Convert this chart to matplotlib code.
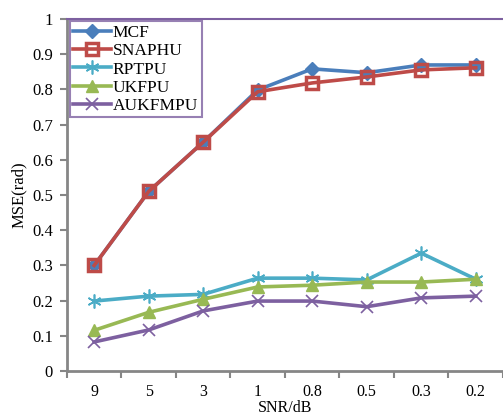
import matplotlib.pyplot as plt
import numpy as np

snr = ["9", "5", "3", "1", "0.8", "0.5", "0.3", "0.2"]
mcf = [0.30, 0.51, 0.65, 0.798, 0.858, 0.847, 0.869, 0.869]
snaphu = [0.30, 0.51, 0.65, 0.793, 0.818, 0.835, 0.855, 0.861]
rptpu = [0.199, 0.213, 0.218, 0.264, 0.264, 0.259, 0.335, 0.261]
ukfpu = [0.116, 0.167, 0.204, 0.239, 0.244, 0.253, 0.253, 0.261]
aukfmpu = [0.083, 0.117, 0.171, 0.199, 0.199, 0.183, 0.208, 0.213]

plt.rcParams["font.family"] = ["Liberation Serif", "DejaVu Serif"]

fig = plt.figure(figsize=(5.03, 4.18), dpi=100)
ax = fig.add_axes([0.133, 0.112, 0.867, 0.843])

x = np.arange(len(snr))
lw = 2.6
ax.plot(x, mcf, color="#4A7EBB", lw=lw, marker="D", ms=7,
        mfc="#4A7EBB", mec="#4A7EBB", label="MCF")
ax.plot(x, snaphu, color="#BE4B48", lw=lw, marker="s", ms=8,
        mfc="none", mec="#BE4B48", mew=2.5, label="SNAPHU")
ax.plot(x, rptpu, color="#4BACC6", lw=lw, marker=(6, 2, 0), ms=10,
        mec="#4BACC6", mew=1.2, label="RPTPU")
ax.plot(x, ukfpu, color="#98B954", lw=lw, marker="^", ms=8,
        mfc="#98B954", mec="#98B954", label="UKFPU")
ax.plot(x, aukfmpu, color="#7D60A0", lw=lw, marker="x", ms=9,
        mec="#7D60A0", mew=1.2, label="AUKFMPU")

ax.set_xlim(-0.5, len(snr) - 0.5)
ax.set_ylim(0, 1)
ax.set_xticks(np.arange(-0.5, len(snr), 1.0))
ax.set_xticklabels([])
ax.set_xticks(x, minor=True)
ax.set_xticklabels(snr, minor=True, fontsize=11.5)
ax.tick_params(axis="x", which="major", direction="out", length=5,
               width=1.5, color="#868686")
ax.tick_params(axis="x", which="minor", length=0, pad=9)

yt = np.round(np.arange(0, 1.01, 0.1), 1)
ax.set_yticks(yt)
ax.set_yticklabels(["0"] + [f"{v:.1f}" for v in yt[1:-1]] + ["1"], fontsize=12)
ax.tick_params(axis="y", direction="out", length=5, width=1.5,
               color="#868686", pad=5)

ax.set_xlabel("SNR/dB", fontsize=11.5, labelpad=0)
ax.set_ylabel("MSE(rad)", fontsize=12, labelpad=4)

for s in ["left", "bottom"]:
    ax.spines[s].set_color("#868686")
    ax.spines[s].set_linewidth(2)
ax.spines["top"].set_color("#7D60A0")
ax.spines["top"].set_linewidth(1.5)
ax.spines["right"].set_visible(False)

leg = ax.legend(loc="upper left", bbox_to_anchor=(0.0, 1.0), fontsize=12.5,
                frameon=True, fancybox=False, borderaxespad=0.15,
                handlelength=2.2, handletextpad=0.1, labelspacing=0.12,
                borderpad=0.2)
leg.get_frame().set_edgecolor("#7D60A0")
leg.get_frame().set_linewidth(1.5)

fig.savefig("out.png", dpi=100)
